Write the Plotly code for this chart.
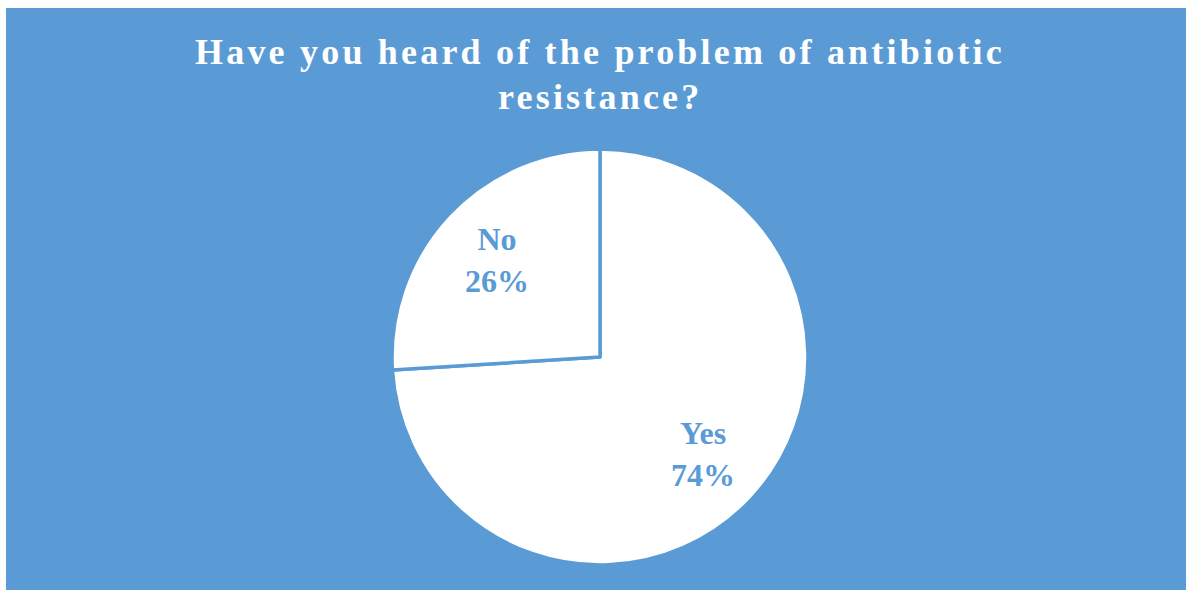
import math
import plotly.graph_objects as go

# Survey answers
labels = ["Yes", "No"]
values = [74, 26]

title_lines = ["Have you heard of the problem of antibiotic", "resistance?"]

BLUE = "#5B9BD5"
W, H = 1186, 590

# pie geometry in pixels
cx, cy, r = 600, 357, 208
dom_x = [(cx - r) / W, (cx + r) / W]
dom_y = [1 - (cy + r) / H, 1 - (cy - r) / H]

fig = go.Figure()
fig.add_trace(go.Pie(
    labels=labels,
    values=values,
    sort=False,
    direction="clockwise",
    rotation=0,
    marker=dict(colors=["white", "white"], line=dict(color=BLUE, width=3.5)),
    textinfo="none",
    hoverinfo="label+percent",
    showlegend=False,
    domain=dict(x=dom_x, y=dom_y),
))

# slice labels placed along each slice's bisector
total = sum(values)
cum = 0.0
annotations = []
for lab, v in zip(labels, values):
    mid = (cum + v / 2) / total * 2 * math.pi  # clockwise from 12 o'clock
    cum += v
    px = cx + 0.68 * r * math.sin(mid)
    py = cy - 0.68 * r * math.cos(mid)
    annotations.append(dict(
        x=px / W, y=1 - py / H, xref="paper", yref="paper",
        text=f"<b>{lab}<br>{round(v / total * 100)}%</b>",
        showarrow=False, xanchor="center", yanchor="middle",
        font=dict(family="Liberation Serif", size=32, color=BLUE),
    ))

# two-line title, widely tracked
for i, line in enumerate(title_lines):
    annotations.append(dict(
        x=600 / W, y=1 - (52 + 45 * i) / H, xref="paper", yref="paper",
        text=f'<span style="letter-spacing:3.2px"><b>{line}</b></span>',
        showarrow=False,
        xanchor="center", yanchor="middle",
        font=dict(family="Liberation Serif", size=36, color="white"),
    ))

fig.update_layout(
    width=W, height=H,
    margin=dict(l=0, r=0, t=0, b=0),
    paper_bgcolor="white",
    plot_bgcolor="white",
    annotations=annotations,
    shapes=[dict(type="rect", xref="paper", yref="paper",
                 x0=6 / W, x1=1, y0=0, y1=1 - 8 / H,
                 fillcolor=BLUE, line=dict(width=0), layer="below")],
)

fig.write_html("out.html")
